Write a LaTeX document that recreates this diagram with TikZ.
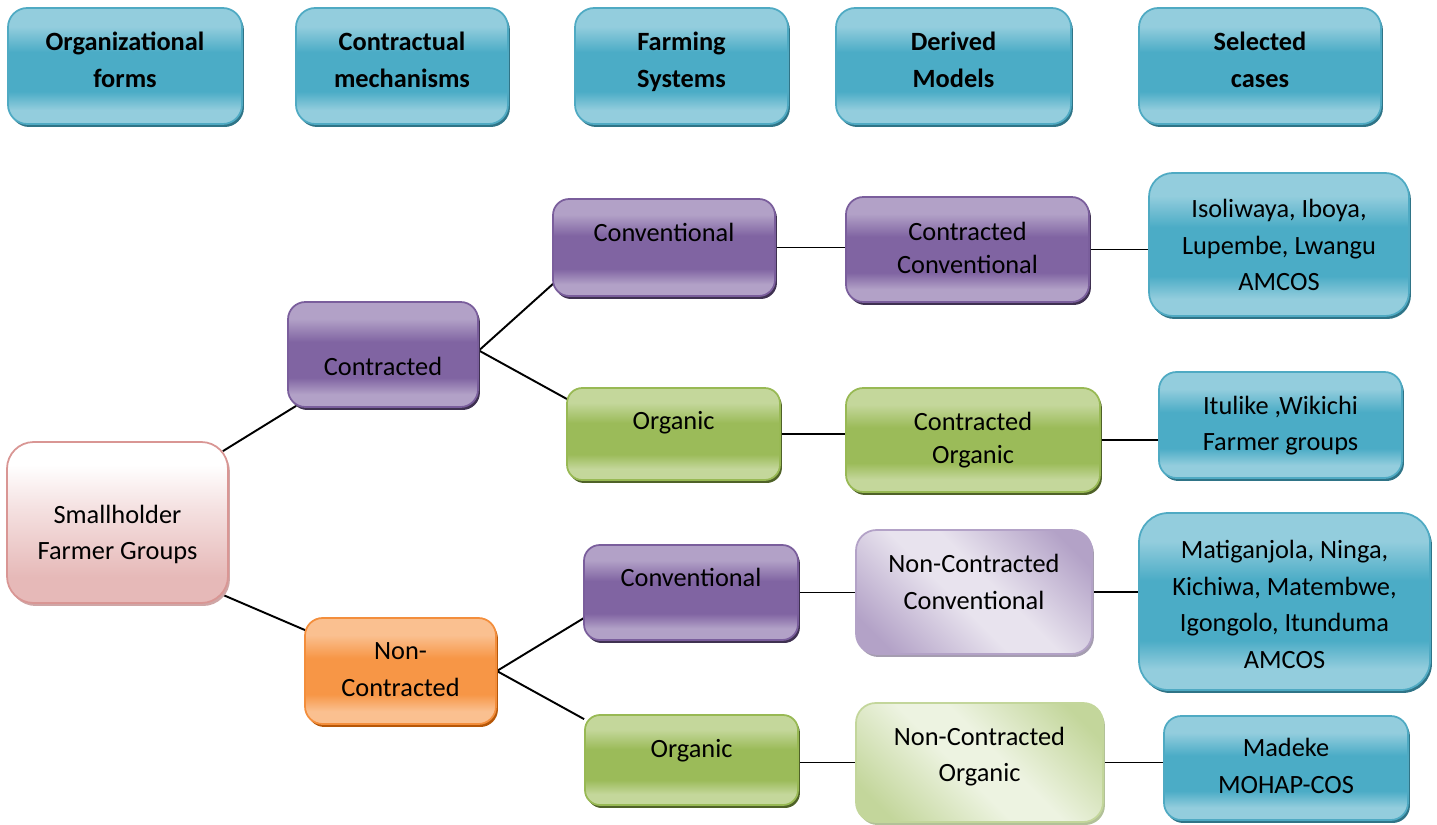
\documentclass[tikz,border=0pt]{standalone}
\usepackage{fontspec}
\setmainfont{Carlito}
\usetikzlibrary{calc,shadows}
\pgfdeclarelayer{background}
\pgfsetlayers{background,main}

% palette
\definecolor{tealL}{HTML}{93CDDD}
\definecolor{tealD}{HTML}{4BACC6}
\definecolor{tealB}{HTML}{4FAAC3}
\definecolor{tealS}{HTML}{2F7487}
\definecolor{purL}{HTML}{B2A1C7}
\definecolor{purD}{HTML}{8064A2}
\definecolor{purB}{HTML}{7A5E9C}
\definecolor{purS}{HTML}{3F3151}
\definecolor{grnL}{HTML}{C4D79B}
\definecolor{grnD}{HTML}{9BBB59}
\definecolor{grnB}{HTML}{98B954}
\definecolor{grnS}{HTML}{4F6228}
\definecolor{orgL}{HTML}{FAC090}
\definecolor{orgD}{HTML}{F79646}
\definecolor{orgB}{HTML}{F38E3C}
\definecolor{orgS}{HTML}{B65708}
\definecolor{pnkD}{HTML}{E6B9B8}
\definecolor{pnkM}{HTML}{F5E2E2}
\definecolor{pnkB}{HTML}{D99694}
\definecolor{pnkS}{HTML}{CFA6A6}
\definecolor{ncpL}{HTML}{E8E3EE}
\definecolor{ncpD}{HTML}{B3A2C7}
\definecolor{ncpS}{HTML}{A59DB0}
\definecolor{ncgL}{HTML}{EDF3E1}
\definecolor{ncgD}{HTML}{C3D69B}
\definecolor{ncgS}{HTML}{B2C198}

% glossy bands: light top and bottom, saturated middle
\pgfdeclareverticalshading{glossteal}{100bp}{color(0bp)=(tealL); color(31bp)=(tealL); color(39bp)=(tealD); color(56bp)=(tealD); color(67bp)=(tealL); color(100bp)=(tealL)}
\pgfdeclareverticalshading{glosspur}{100bp}{color(0bp)=(purL); color(31bp)=(purL); color(39bp)=(purD); color(56bp)=(purD); color(67bp)=(purL); color(100bp)=(purL)}
\pgfdeclareverticalshading{glossgrn}{100bp}{color(0bp)=(grnL); color(31bp)=(grnL); color(39bp)=(grnD); color(56bp)=(grnD); color(67bp)=(grnL); color(100bp)=(grnL)}
\pgfdeclareverticalshading{glossorg}{100bp}{color(0bp)=(orgL); color(31bp)=(orgL); color(39bp)=(orgD); color(56bp)=(orgD); color(67bp)=(orgL); color(100bp)=(orgL)}
\pgfdeclareverticalshading{softpink}{100bp}{color(0bp)=(pnkD); color(33bp)=(pnkD); color(55bp)=(pnkM); color(68bp)=(white); color(100bp)=(white)}
% diagonal sheen: darker towards two opposite corners
\pgfdeclareverticalshading{sheenpur}{100bp}{color(0bp)=(ncpD); color(22bp)=(ncpD); color(45bp)=(ncpL); color(55bp)=(ncpL); color(78bp)=(ncpD); color(100bp)=(ncpD)}
\pgfdeclareverticalshading{sheengrn}{100bp}{color(0bp)=(ncgD); color(22bp)=(ncgD); color(45bp)=(ncgL); color(55bp)=(ncgL); color(78bp)=(ncgD); color(100bp)=(ncgD)}

\tikzset{
  sz/.style 2 args={minimum width=#1*0.02cm, minimum height=#2*0.02cm, rounded corners=#2*0.0945pt},
  box/.style={rectangle, draw, line width=1pt, inner sep=0pt, shade},
  shd/.style={drop shadow={shadow xshift=1.1pt, shadow yshift=-1.7pt, opacity=1, fill=#1}},
  tbox/.style={box, draw=tealB, shading=glossteal, shd=tealS},
  pbox/.style={box, draw=purB, shading=glosspur, shd=purS},
  gbox/.style={box, draw=grnB, shading=glossgrn, shd=grnS},
  obox/.style={box, draw=orgB, shading=glossorg, shd=orgS},
  pinkbox/.style={box, draw=pnkB, shading=softpink, shd=pnkS},
  ncpbox/.style={box, draw=ncpD, shading=sheenpur, shading angle=-45, shd=ncpS},
  ncgbox/.style={box, draw=ncgD, shading=sheengrn, shading angle=-45, shd=ncgS},
  lbl/.style={align=center, inner sep=0pt, yshift=-2.8pt, execute at begin node=\strut, execute at end node=\strut},
  txt/.style={lbl, font=\fontsize{15pt}{21pt}\selectfont},
  txtc/.style={lbl, font=\fontsize{15pt}{18.7pt}\selectfont},
  hdr/.style={lbl, font=\fontsize{15pt}{21pt}\selectfont\bfseries},
  conn/.style={draw=black, line width=1.1pt}
}

\begin{document}
\begin{tikzpicture}[x=0.02cm, y=-0.02cm]
\useasboundingbox (0,0) rectangle (1437,825);

% column headings
\node[tbox, sz={234}{116}] (h1) at (125,66) {};
\node[hdr] (h1t) at ($(h1)+(0,-5.5)$) {Organizational\\forms};
\node[tbox, sz={212}{116}] (h2) at (402,66) {};
\node[hdr] (h2t) at ($(h2)+(0,-5.5)$) {Contractual\\mechanisms};
\node[tbox, sz={213}{116}] (h3) at (681.5,66) {};
\node[hdr] (h3t) at ($(h3)+(0,-5.5)$) {Farming\\Systems};
\node[tbox, sz={235}{116}] (h4) at (953.5,66) {};
\node[hdr] (h4t) at ($(h4)+(0,-5.5)$) {Derived\\Models};
\node[tbox, sz={242}{116}] (h5) at (1260,66) {};
\node[hdr] (h5t) at ($(h5)+(0,-5.5)$) {Selected\\cases};

% root
\node[pinkbox, sz={221}{161}] (sh) at (117.5,522.5) {};
\node[txt] (sht) at ($(sh)+(0,10.5)$) {Smallholder\\Farmer Groups};

% contractual mechanisms
\node[pbox, sz={190}{105}] (ct) at (383,354.5) {};
\node[txt] (ctt) at ($(ct)+(0,8.5)$) {Contracted};
\node[obox, sz={191}{106}] (nct) at (400.5,671) {};
\node[txt] (nctt) at ($(nct)+(0,-1)$) {Non-\\Contracted};

% farming systems
\node[pbox, sz={222}{97}] (cv1) at (664,247.5) {};
\node[txt] (cv1t) at ($(cv1)+(0,-18.5)$) {Conventional};
\node[gbox, sz={213}{92}] (og1) at (673.5,434) {};
\node[txt] (og1t) at ($(og1)+(0,-17)$) {Organic};
\node[pbox, sz={214}{95}] (cv2) at (691,592.5) {};
\node[txt] (cv2t) at ($(cv2)+(0,-18.5)$) {Conventional};
\node[gbox, sz={213}{90}] (og2) at (691.5,760) {};
\node[txt] (og2t) at ($(og2)+(0,-15)$) {Organic};

% derived models
\node[pbox, sz={243}{105}] (cc) at (967.5,249.5) {};
\node[txtc] (cct) at ($(cc)+(0,-2)$) {Contracted\\Conventional};
\node[gbox, sz={254}{104}] (co) at (973,440) {};
\node[txtc] (cot) at ($(co)+(0,-2.5)$) {Contracted\\Organic};
\node[ncpbox, sz={236}{124}] (ncc) at (974,592) {};
\node[txt] (ncct) at ($(ncc)+(0,-9.5)$) {Non-Contracted\\Conventional};
\node[ncgbox, sz={247}{119}] (nco) at (979.5,762.5) {};
\node[txt] (ncot) at ($(nco)+(0,-7.5)$) {Non-Contracted\\Organic};

% selected cases
\node[tbox, sz={260}{143}] (iso) at (1279,244.5) {};
\node[txt] (isot) at ($(iso)+(0,1)$) {Isoliwaya, Iboya,\\Lupembe, Lwangu\\AMCOS};
\node[tbox, sz={243}{106}] (itu) at (1280.5,425) {};
\node[txt] (itut) at ($(itu)+(0,-1)$) {Itulike ,Wikichi\\Farmer groups};
\node[tbox, sz={291}{177}] (mat) at (1284.5,601.5) {};
\node[txt] (matt) at ($(mat)+(0,3.5)$) {Matiganjola, Ninga,\\Kichiwa, Matembwe,\\Igongolo, Itunduma\\AMCOS};
\node[tbox, sz={244}{104}] (mad) at (1286,768) {};
\node[txt] (madt) at ($(mad)+(0,-1.5)$) {Madeke\\MOHAP-COS};

% connectors, kept underneath the boxes
\begin{pgfonlayer}{background}
  \draw[conn] ($(sh.north east)+(-6,10)$) -- ($(ct.south west)+(9,-2)$);
  \draw[conn] ($(sh.south east)+(-6,-9)$) -- ($(nct.north west)+(1,13)$);
  \draw[conn] ($(ct.east)+(0,-4)$) -- ($(cv1.south west)+(2,-14)$);
  \draw[conn] ($(ct.east)+(0,-4)$) -- ($(og1.north west)+(1,12)$);
  \draw[conn] (nct.east) -- ($(cv2.south west)+(1,-23)$);
  \draw[conn] (nct.east) -- ($(og2.north west)+(0,5)$);
  \draw[conn] (cv1.east) -- (cv1.east -| cc.west);
  \draw[conn] (og1.east) -- (og1.east -| co.west);
  \draw[conn] (cc.east) -- (cc.east -| iso.west);
  \draw[conn] (co.east) -- (co.east -| itu.west);
  \draw[conn] (cv2.east) -- (cv2.east -| ncc.west);
  \draw[conn] (ncc.east) -- (ncc.east -| mat.west);
  \draw[conn] (nco.west -| og2.east) -- (nco.west);
  \draw[conn] (nco.east) -- (nco.east -| mad.west);
\end{pgfonlayer}
\end{tikzpicture}
\end{document}
